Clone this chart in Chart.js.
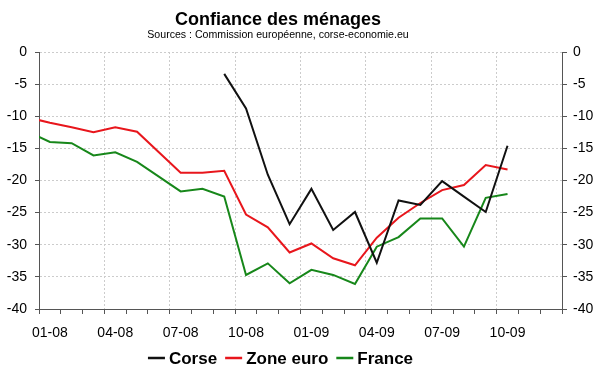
<!DOCTYPE html>
<html>
<head>
<meta charset="utf-8">
<script src="https://cdn.jsdelivr.net/npm/chart.js@4"></script>
<style>
  body { margin: 0; background: #fff; }
</style>
</head>
<body>
<canvas id="chart" width="600" height="372"></canvas>
<script>
// monthly values, Dec 2007 .. Oct 2009 (first month sits left of the axis and is clipped)
const months = ['12-07', '01-08', '02-08', '03-08', '04-08', '05-08', '06-08', '07-08', '08-08', '09-08', '10-08', '11-08',
  '12-08', '01-09', '02-09', '03-09', '04-09', '05-09', '06-09', '07-09', '08-09', '09-09', '10-09'];
const corse = [null, null, null, null, null, null, null, null, null, -3.4, -8.8, -19.1,
  -26.8, -21.3, -27.7, -24.9, -32.8, -23.1, -23.8, -20.1, -22.5, -24.9, -14.6];
const zoneEuro = [-10.2, -11.0, -11.7, -12.5, -11.7, -12.4, -15.6, -18.8, -18.8, -18.5, -25.3, -27.3,
  -31.2, -29.8, -32.1, -33.2, -28.9, -25.8, -23.5, -21.5, -20.7, -17.6, -18.3];
const france = [-12.4, -14.0, -14.2, -16.1, -15.6, -17.1, -19.4, -21.7, -21.3, -22.5, -34.7, -32.9,
  -36.0, -33.9, -34.7, -36.1, -30.3, -28.8, -25.9, -25.9, -30.3, -22.7, -22.1];
const tickLabels = ['01-08', '04-08', '07-08', '10-08', '01-09', '04-09', '07-09', '10-09'];

const FONT = "'Liberation Sans', Arial, sans-serif";

const toPoints = (values) => values
  .map((v, i) => ({ x: i - 0.5, y: v }))
  .filter(p => p.y !== null);

const series = [
  { label: 'Corse', values: corse, color: '#111111' },
  { label: 'Zone euro', values: zoneEuro, color: '#e8161c' },
  { label: 'France', values: france, color: '#17871a' }
];

// title, subtitle and legend drawn by hand so they sit where the original has them
const decor = {
  id: 'decor',
  afterDraw(chart) {
    const ctx = chart.ctx;
    ctx.save();
    ctx.fillStyle = '#000';
    ctx.textAlign = 'center';
    ctx.textBaseline = 'middle';
    ctx.font = 'bold 18px ' + FONT;
    ctx.fillText('Confiance des ménages', 278, 20);
    ctx.font = '10.6px ' + FONT;
    ctx.fillText('Sources : Commission européenne, corse-economie.eu', 278, 35);

    ctx.font = 'bold 17px ' + FONT;
    const markW = 17, markGap = 4, itemGap = 8;
    const widths = series.map(s => markW + markGap + ctx.measureText(s.label).width);
    const total = widths.reduce((a, b) => a + b, 0) + itemGap * (series.length - 1);
    let x = 280.5 - total / 2;
    const y = 358;
    ctx.textAlign = 'left';
    series.forEach((s, i) => {
      ctx.strokeStyle = s.color;
      ctx.lineWidth = 2.5;
      ctx.beginPath();
      ctx.moveTo(x, y);
      ctx.lineTo(x + markW, y);
      ctx.stroke();
      ctx.fillText(s.label, x + markW + markGap, y + 1);
      x += widths[i] + itemGap;
    });
    ctx.restore();
  }
};

new Chart(document.getElementById('chart'), {
  type: 'line',
  data: {
    datasets: series.map(s => ({
      label: s.label,
      data: toPoints(s.values),
      borderColor: s.color,
      backgroundColor: s.color,
      borderWidth: 2,
      pointRadius: 0,
      tension: 0,
      clip: 0,
      yAxisID: 'y'
    }))
  },
  options: {
    responsive: false,
    animation: false,
    devicePixelRatio: 1,
    layout: { padding: { top: 52, left: 0, right: 0, bottom: 0 } },
    plugins: {
      legend: { display: false },
      title: { display: false },
      tooltip: { enabled: false }
    },
    scales: {
      x: {
        type: 'linear',
        min: 0,
        max: 24,
        afterFit: (scale) => { scale.height = 63; },
        ticks: {
          stepSize: 1,
          autoSkip: false,
          maxRotation: 0,
          labelOffset: 10.9,
          padding: 11,
          color: '#000',
          font: { family: FONT, size: 14 },
          callback: (v) => {
            const m = Math.round(v);
            return m % 3 === 0 && m < 24 ? tickLabels[m / 3] : '';
          }
        },
        grid: {
          color: (c) => (c.tick && Math.round(c.tick.value) % 3 === 0) ? '#cccccc' : 'rgba(0,0,0,0)',
          tickColor: '#555',
          tickLength: 5
        },
        border: { color: '#555', dash: [2, 2] }
      },
      y: {
        position: 'left',
        min: -40,
        max: 0,
        afterFit: (scale) => { scale.width = 39; },
        ticks: {
          stepSize: 5,
          padding: 8,
          color: '#000',
          font: { family: FONT, size: 14 }
        },
        grid: { color: '#cccccc', tickColor: '#555', tickLength: 4 },
        border: { color: '#555', dash: [2, 2] }
      },
      y2: {
        position: 'right',
        min: -40,
        max: 0,
        afterFit: (scale) => { scale.width = 38; },
        ticks: {
          stepSize: 5,
          padding: 6,
          color: '#000',
          font: { family: FONT, size: 14 }
        },
        grid: { drawOnChartArea: false, tickColor: '#555', tickLength: 5 },
        border: { color: '#555' }
      }
    }
  },
  plugins: [decor]
});
</script>
</body>
</html>
